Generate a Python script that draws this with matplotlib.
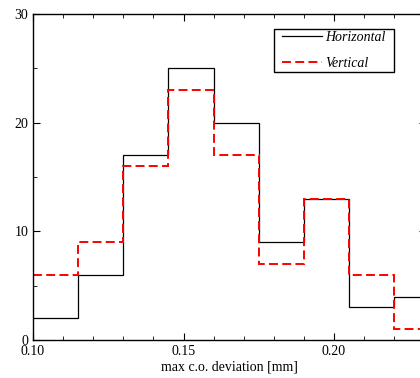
import numpy as np
import matplotlib
matplotlib.use("Agg")
import matplotlib.pyplot as plt
from matplotlib.patches import Rectangle
from matplotlib.ticker import MultipleLocator

# bin edges of the histogram [mm]
bin_edges = [0.100, 0.115, 0.130, 0.145, 0.160, 0.175, 0.190, 0.205, 0.220, 0.235]
# counts per bin
horizontal = [2, 6, 17, 25, 20, 9, 13, 3, 4]
vertical = [6, 9, 16, 23, 17, 7, 13, 6, 1]

plt.rcParams['font.family'] = ['Liberation Serif', 'DejaVu Serif']
plt.rcParams['font.size'] = 10

W, H = 420, 378
# axes box in pixels (left, top, right, bottom) -- right spine is just off the picture
L, T, R, B = 33, 14, 426, 340

fig = plt.figure(figsize=(W / 100, H / 100), dpi=100)
ax = fig.add_axes([L / W, (H - B) / H, (R - L) / W, (B - T) / H])

ax.stairs(horizontal, bin_edges, baseline=None, color='black', linewidth=0.9,
          label='Horizontal')
ax.stairs(vertical, bin_edges, baseline=None, color='red', linewidth=1.4,
          linestyle=(0, (4.6, 2.2)), label='Vertical')

ax.set_xlim(0.10, 0.10 + (R - L) / 3010)
ax.set_ylim(0, 30)
ax.xaxis.set_major_locator(MultipleLocator(0.05))
ax.xaxis.set_minor_locator(MultipleLocator(0.01))
ax.yaxis.set_major_locator(MultipleLocator(10))
ax.yaxis.set_minor_locator(MultipleLocator(5))
ax.xaxis.set_major_formatter(plt.FuncFormatter(lambda v, p: f"{v:.2f}"))
ax.tick_params(which='both', direction='in', top=True, right=True, labelsize=10)
ax.tick_params(which='major', length=5)
ax.tick_params(which='minor', length=3)
for s in ax.spines.values():
    s.set_linewidth(1.0)

ax.set_xlabel('max c.o. deviation [mm]', fontsize=10, labelpad=2)


def px2ax(x, y):
    return (x - L) / (R - L), 1 - (y - T) / (B - T)


# legend frame drawn by hand so that its size matches
x0, y0 = px2ax(274, 72)
x1, y1 = px2ax(394, 29)
ax.add_patch(Rectangle((x0, y0), x1 - x0, y1 - y0, transform=ax.transAxes,
                       facecolor='white', edgecolor='black', linewidth=1.0,
                       zorder=4.5, clip_on=False))
leg = ax.legend(loc='upper left', bbox_to_anchor=px2ax(282, 31),
                frameon=False, borderpad=0, borderaxespad=0,
                prop={'style': 'italic', 'size': 10}, handlelength=2.9,
                handletextpad=0.2, labelspacing=0.96)

fig.savefig('out.png', dpi=100)
